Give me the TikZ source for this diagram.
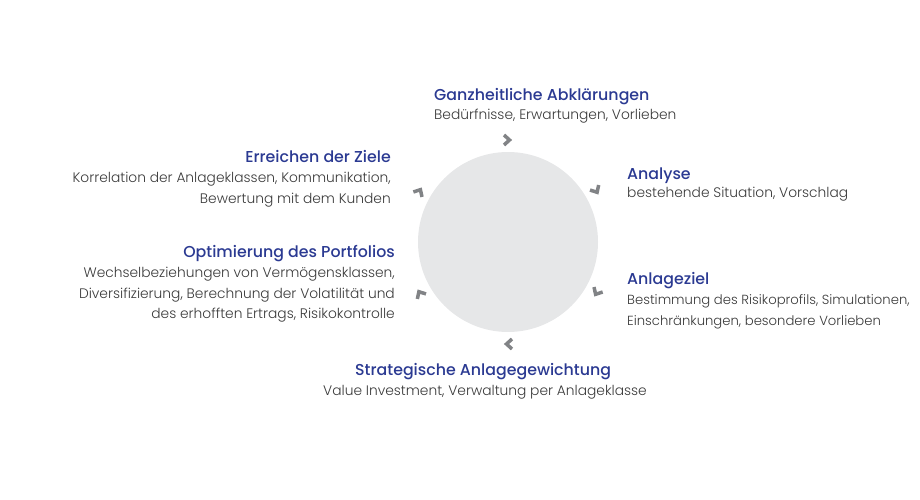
\documentclass[tikz,border=0pt]{standalone}
\usepackage{fontspec}
\setmainfont{Poppins Light}
\newfontfamily\titelfont{Poppins Medium}
\usetikzlibrary{positioning}

\definecolor{titelblau}{HTML}{2B3A92}
\definecolor{textgrau}{HTML}{3A3A3A}
\definecolor{kreisgrau}{HTML}{E6E7E8}
\definecolor{pfeilgrau}{HTML}{818386}

\tikzset{
  titel/.style={inner sep=0pt, text=titelblau, font=\titelfont\fontsize{15.8}{20}\selectfont},
  beschr/.style={inner sep=0pt, text=textgrau, font=\fontsize{13.8}{20.5}\selectfont},
  chevron/.style={draw=pfeilgrau, line width=3.5pt, line join=miter},
}

\begin{document}
\begin{tikzpicture}[x=1pt,y=1pt]
   \useasboundingbox (0,0) rectangle (920,500);
   % Kreis in der Mitte
   \node (kreis) [circle, fill=kreisgrau, minimum size=180pt, inner sep=0pt] at (508,258) {};
   % Pfeile im Uhrzeigersinn
   \foreach \a in {90,30,-30,-90,-150,150}
     \draw[chevron, shift={(kreis.center)}, shift={(\a:102)}, rotate=\a-90]
       (-4,5) -- (1.5,0) -- (-4,-5);
   % Schritte (mehrzeilige Texte haengen an der letzten Zeile)
   \node (ganz) [titel, anchor=base west] at (434,399) {Ganzheitliche Abklärungen};
   \node (ganz-text) [beschr, anchor=base west] at (434,380) {Bedürfnisse, Erwartungen, Vorlieben};
   \node (analyse) [titel, anchor=base west] at (627,320) {Analyse};
   \node (analyse-text) [beschr, anchor=base west] at (627,302) {bestehende Situation, Vorschlag};
   \node (ziel) [titel, anchor=base west] at (627,215) {Anlageziel};
   \node (ziel-text) [beschr, font=\fontsize{13.2}{20.5}\selectfont, anchor=base west, align=left] at (627,174.5)
     {Bestimmung des Risikoprofils, Simulationen,\\Einschränkungen, besondere Vorlieben};
   \node (strat) [titel, anchor=base west] at (355,124) {Strategische Anlagegewichtung};
   \node (strat-text) [beschr, anchor=base west] at (323,104) {Value Investment, Verwaltung per Anlageklasse};
   \node (optim) [titel, anchor=base east] at (395,242) {Optimierung des Portfolios};
   \node (optim-text) [beschr, anchor=base east, align=right] at (395,181)
     {Wechselbeziehungen von Vermögensklassen,\\Diversifizierung, Berechnung der Volatilität und\\des erhofften Ertrags, Risikokontrolle};
   \node (ziele) [titel, anchor=base east] at (391,337) {Erreichen der Ziele};
   \node (ziele-text) [beschr, anchor=base east, align=right] at (391,296.5)
     {Korrelation der Anlageklassen, Kommunikation,\\Bewertung mit dem Kunden};
\end{tikzpicture}
\end{document}
